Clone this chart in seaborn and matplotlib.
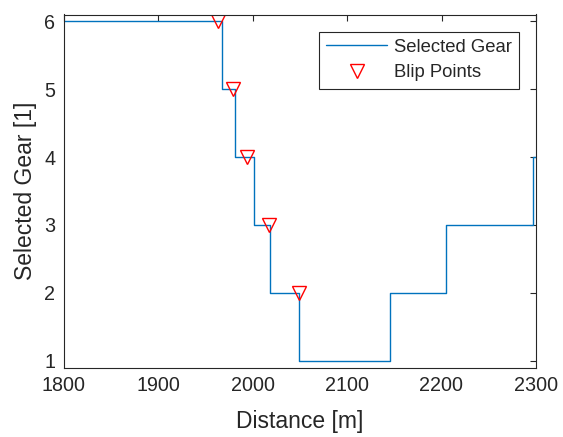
import matplotlib
matplotlib.use("Agg")
import matplotlib.pyplot as plt
import seaborn as sns
import pandas as pd

# Data
distance = [1800, 1968, 1981, 2002, 2019, 2049, 2145, 2205, 2297, 2300]
gear = [6, 5, 4, 3, 2, 1, 2, 3, 4, 4]
blip_distance = [1964, 1979, 1994, 2017, 2049]
blip_gear = [6, 5, 4, 3, 2]
xticks = [1800, 1900, 2000, 2100, 2200, 2300]
yticks = [1, 2, 3, 4, 5, 6]

sns.set_style("white")
plt.rcParams['font.family'] = ['Liberation Sans', 'DejaVu Sans']

fig = plt.figure(figsize=(5.63, 4.37), dpi=100)
ax = fig.add_axes([63.5/563, 1-367.5/437, (536-63.5)/563, (367.5-14.5)/437])

df = pd.DataFrame({"Distance": distance, "Gear": gear})
bdf = pd.DataFrame({"Distance": blip_distance, "Gear": blip_gear})

sns.lineplot(data=df, x="Distance", y="Gear", ax=ax, drawstyle="steps-post",
             color="#0072BD", linewidth=1.0, estimator=None, sort=False,
             label="Selected Gear")
sns.lineplot(data=bdf, x="Distance", y="Gear", ax=ax, linestyle="", marker="v",
             markersize=10.5, markerfacecolor="none", markeredgecolor="#FF0000",
             markeredgewidth=1.0, color="#FF0000", estimator=None, sort=False,
             label="Blip Points")

ax.set_xlim(1800, 2300)
ax.set_ylim(0.9, 6.1)
ax.set_xticks(xticks)
ax.set_yticks(yticks)
ax.set_xlabel("Distance [m]", fontsize=16.5, color="#262626", labelpad=11)
ax.set_ylabel("Selected Gear [1]", fontsize=16.5, color="#262626", labelpad=5)
ax.tick_params(axis="both", which="both", direction="in", length=4, width=0.8,
               top=True, right=True, labelsize=14.2, colors="#262626",
               labelcolor="#262626", pad=6)
for s in ax.spines.values():
    s.set_visible(True)
    s.set_color("#262626")
    s.set_linewidth(0.8)

leg = ax.legend(loc="upper right", bbox_to_anchor=(519/563, 1-31.5/437),
                bbox_transform=fig.transFigure, fontsize=13.3, frameon=True,
                fancybox=False, framealpha=1, edgecolor="#262626",
                handlelength=3.3, handletextpad=0.35, borderpad=0.4,
                labelspacing=0.45, borderaxespad=0)
leg.get_frame().set_linewidth(0.8)

fig.savefig("out.png", dpi=100)
